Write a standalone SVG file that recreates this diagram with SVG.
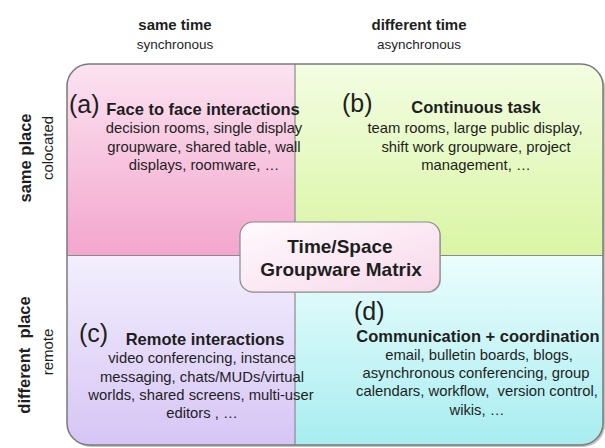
<svg xmlns="http://www.w3.org/2000/svg" width="605" height="448" viewBox="0 0 605 448">
<defs>
<style>
text{font-family:"Liberation Sans",Arial,sans-serif;fill:#1e1e1e}
.hd{font-weight:bold;font-size:15px;text-anchor:middle}
.sub{font-size:13.5px;text-anchor:middle}
.side{font-weight:bold;font-size:16.5px;text-anchor:middle}
.sidesub{font-size:15px;text-anchor:middle}
.lab{font-size:25px}
.ttl{font-weight:bold;font-size:16.5px;text-anchor:middle}
.body{font-size:14.8px;text-anchor:middle}
.ctr{font-weight:bold;font-size:19px;text-anchor:middle}
.div{stroke:#8a8a8a;stroke-width:1.2}
</style>
<linearGradient id="gA" x1="0" y1="0" x2="0" y2="1"><stop offset="0" stop-color="#fbe3f1"/><stop offset="1" stop-color="#f3a6cd"/></linearGradient>
<linearGradient id="gB" x1="0" y1="0" x2="0" y2="1"><stop offset="0" stop-color="#f3fde2"/><stop offset="1" stop-color="#d9f5a3"/></linearGradient>
<linearGradient id="gC" x1="0" y1="0" x2="0" y2="1"><stop offset="0" stop-color="#f3effd"/><stop offset="1" stop-color="#d6c5f5"/></linearGradient>
<linearGradient id="gD" x1="0" y1="0" x2="0" y2="1"><stop offset="0" stop-color="#ebfdfd"/><stop offset="1" stop-color="#a8edf0"/></linearGradient>
<linearGradient id="gM" x1="0" y1="0" x2="1" y2="1"><stop offset="0" stop-color="#fefafd"/><stop offset="1" stop-color="#f8d8ea"/></linearGradient>
<clipPath id="frame"><rect x="67" y="64" width="536" height="381" rx="22"/></clipPath>
</defs>
<rect width="605" height="448" fill="#ffffff"/>

<g id="headers">
<text class="hd" x="175" y="30">same time</text>
<text class="sub" x="175" y="49">synchronous</text>
<text class="hd" x="419" y="30">different time</text>
<text class="sub" x="419" y="49">asynchronous</text>
<text class="side" transform="translate(31,158) rotate(-90)">same place</text>
<text class="sidesub" transform="translate(53,148) rotate(-90)">colocated</text>
<text class="side" transform="translate(30,355) rotate(-90)" xml:space="preserve">different  place</text>
<text class="sidesub" transform="translate(53,352) rotate(-90)">remote</text>
</g>

<rect x="69" y="66" width="536" height="381" rx="22" fill="#9a9a9a" opacity="0.6"/>
<g clip-path="url(#frame)">
<g id="qa"><rect x="67" y="64" width="228" height="191" fill="url(#gA)"/></g>
<g id="qb"><rect x="295" y="64" width="308" height="192" fill="url(#gB)"/></g>
<g id="qc"><rect x="67" y="255" width="228" height="190" fill="url(#gC)"/></g>
<g id="qd"><rect x="295" y="256" width="308" height="189" fill="url(#gD)"/></g>
</g>
<g id="connectors">
<line class="div" x1="295" y1="64" x2="295" y2="445"/>
<line class="div" x1="67" y1="255.5" x2="603" y2="255.5"/>
</g>
<rect x="67" y="64" width="536" height="381" rx="22" fill="none" stroke="#7a7a7a" stroke-width="1.5"/>

<g id="node-a">
<text class="lab" x="69" y="113">(a)</text>
<text class="ttl" x="203" y="115">Face to face interactions</text>
<text class="body" x="204" y="133">decision rooms, single display</text>
<text class="body" x="204" y="152">groupware, shared table, wall</text>
<text class="body" x="204" y="170">displays, roomware, …</text>
</g>
<g id="node-b">
<text class="lab" x="342" y="112">(b)</text>
<text class="ttl" x="476" y="113">Continuous task</text>
<text class="body" x="475" y="133">team rooms, large public display,</text>
<text class="body" x="476" y="152">shift work groupware, project</text>
<text class="body" x="476" y="170">management, …</text>
</g>
<g id="node-c">
<text class="lab" x="79" y="342">(c)</text>
<text class="ttl" x="205" y="345">Remote interactions</text>
<text class="body" x="202" y="363">video conferencing, instance</text>
<text class="body" x="202" y="382">messaging, chats/MUDs/virtual</text>
<text class="body" x="201" y="400">worlds, shared screens, multi-user</text>
<text class="body" x="202" y="418">editors , …</text>
</g>
<g id="node-d">
<text class="lab" x="354" y="320">(d)</text>
<text class="ttl" x="478" y="342">Communication + coordination</text>
<text class="body" x="479" y="360">email, bulletin boards, blogs,</text>
<text class="body" x="476" y="378">asynchronous conferencing, group</text>
<text class="body" x="477" y="396" xml:space="preserve">calendars, workflow,  version control,</text>
<text class="body" x="477" y="415">wikis, …</text>
</g>
<g id="node-center">
<rect x="241" y="223" width="200" height="70" rx="13" fill="#8a8a8a" opacity="0.5"/>
<rect x="240" y="222" width="200" height="70" rx="13" fill="url(#gM)" stroke="#8a8a8a" stroke-width="1.2"/>
<text class="ctr" x="340" y="253">Time/Space</text>
<text class="ctr" x="341" y="276">Groupware Matrix</text>
</g>
</svg>
